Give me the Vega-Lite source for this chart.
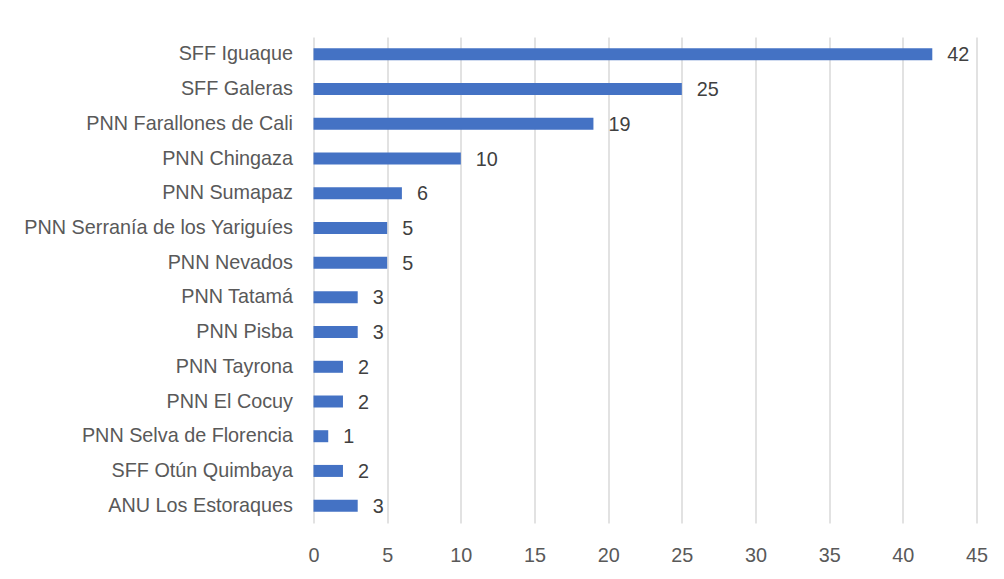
{
  "$schema": "https://vega.github.io/schema/vega-lite/v6.json",
  "width": 663,
  "height": 486,
  "autosize": {"type": "none"},
  "padding": {"left": 313.5, "top": 37, "right": 27.5, "bottom": 56},
  "background": "white",
  "config": {
    "view": {"stroke": null},
    "font": "Liberation Sans"
  },
  "data": {
    "values": [
      {"area": "SFF Iguaque", "n": 42},
      {"area": "SFF Galeras", "n": 25},
      {"area": "PNN Farallones de Cali", "n": 19},
      {"area": "PNN Chingaza", "n": 10},
      {"area": "PNN Sumapaz", "n": 6},
      {"area": "PNN Serranía de los Yariguíes", "n": 5},
      {"area": "PNN Nevados", "n": 5},
      {"area": "PNN Tatamá", "n": 3},
      {"area": "PNN Pisba", "n": 3},
      {"area": "PNN Tayrona", "n": 2},
      {"area": "PNN El Cocuy", "n": 2},
      {"area": "PNN Selva de Florencia", "n": 1},
      {"area": "SFF Otún Quimbaya", "n": 2},
      {"area": "ANU Los Estoraques", "n": 3}
    ]
  },
  "encoding": {
    "y": {
      "field": "area",
      "type": "nominal",
      "sort": null,
      "axis": {
        "title": null,
        "ticks": false,
        "domain": false,
        "labelFontSize": 19.8,
        "labelColor": "#595959",
        "labelPadding": 21,
        "labelLimit": 0,
        "labelFont": "Liberation Sans"
      }
    },
    "x": {
      "field": "n",
      "type": "quantitative",
      "scale": {"domain": [0, 45], "nice": false},
      "axis": {
        "title": null,
        "values": [0, 5, 10, 15, 20, 25, 30, 35, 40, 45],
        "ticks": false,
        "domain": false,
        "grid": true,
        "gridColor": "#d9d9d9",
        "gridWidth": 1.5,
        "labelFlush": false,
        "labelFontSize": 19.8,
        "labelColor": "#595959",
        "labelPadding": 22,
        "labelFont": "Liberation Sans"
      }
    }
  },
  "layer": [
    {
      "mark": {"type": "bar", "size": 12, "color": "#4472C4"}
    },
    {
      "mark": {
        "type": "text",
        "align": "left",
        "baseline": "middle",
        "dx": 15,
        "dy": 1,
        "fontSize": 19.8,
        "color": "#404040",
        "font": "Liberation Sans"
      },
      "encoding": {"text": {"field": "n", "type": "quantitative"}}
    }
  ]
}
